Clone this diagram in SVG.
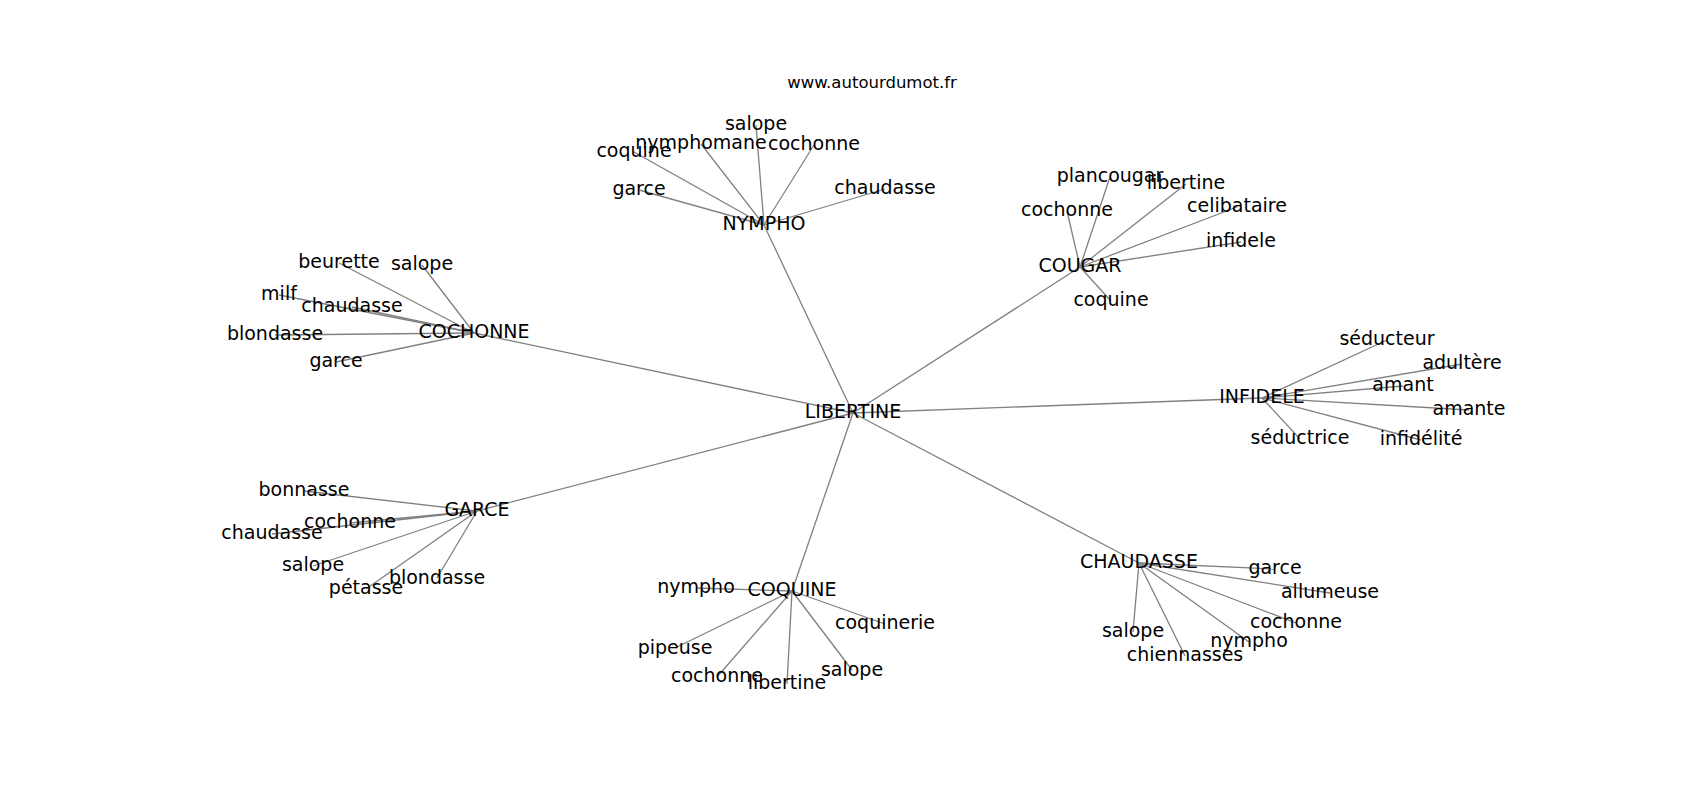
<svg xmlns="http://www.w3.org/2000/svg" width="1700" height="800" viewBox="0 0 1700 800">
<style>
text{font-family:"DejaVu Sans","Liberation Sans",sans-serif;font-size:19px;fill:#000;text-anchor:middle}
.title{font-size:16.5px}
#edges line{stroke:#808080;stroke-width:1.3}
</style>
<rect width="1700" height="800" fill="#fff"/>
<text class="title" x="872" y="88">www.autourdumot.fr</text>
<g id="edges">
<line x1="853" y1="413" x2="764" y2="225"/>
<line x1="853" y1="413" x2="1080" y2="267"/>
<line x1="853" y1="413" x2="474" y2="333"/>
<line x1="853" y1="413" x2="1262" y2="398"/>
<line x1="853" y1="413" x2="477" y2="511"/>
<line x1="853" y1="413" x2="792" y2="591"/>
<line x1="853" y1="413" x2="1139" y2="563"/>
<line x1="764" y1="225" x2="756" y2="125"/>
<line x1="764" y1="225" x2="701" y2="144"/>
<line x1="764" y1="225" x2="814" y2="145"/>
<line x1="764" y1="225" x2="634" y2="152"/>
<line x1="764" y1="225" x2="639" y2="190"/>
<line x1="764" y1="225" x2="885" y2="189"/>
<line x1="1080" y1="267" x2="1110" y2="177"/>
<line x1="1080" y1="267" x2="1186" y2="184"/>
<line x1="1080" y1="267" x2="1237" y2="207"/>
<line x1="1080" y1="267" x2="1241" y2="242"/>
<line x1="1080" y1="267" x2="1067" y2="211"/>
<line x1="1080" y1="267" x2="1111" y2="301"/>
<line x1="474" y1="333" x2="339" y2="263"/>
<line x1="474" y1="333" x2="422" y2="265"/>
<line x1="474" y1="333" x2="279" y2="295"/>
<line x1="474" y1="333" x2="352" y2="307"/>
<line x1="474" y1="333" x2="275" y2="335"/>
<line x1="474" y1="333" x2="336" y2="362"/>
<line x1="1262" y1="398" x2="1387" y2="340"/>
<line x1="1262" y1="398" x2="1462" y2="364"/>
<line x1="1262" y1="398" x2="1403" y2="386"/>
<line x1="1262" y1="398" x2="1469" y2="410"/>
<line x1="1262" y1="398" x2="1421" y2="440"/>
<line x1="1262" y1="398" x2="1300" y2="439"/>
<line x1="477" y1="511" x2="304" y2="491"/>
<line x1="477" y1="511" x2="350" y2="523"/>
<line x1="477" y1="511" x2="272" y2="534"/>
<line x1="477" y1="511" x2="313" y2="566"/>
<line x1="477" y1="511" x2="366" y2="589"/>
<line x1="477" y1="511" x2="437" y2="578"/>
<line x1="792" y1="591" x2="696" y2="588"/>
<line x1="792" y1="591" x2="885" y2="624"/>
<line x1="792" y1="591" x2="675" y2="648"/>
<line x1="792" y1="591" x2="717" y2="677"/>
<line x1="792" y1="591" x2="787" y2="684"/>
<line x1="792" y1="591" x2="852" y2="670"/>
<line x1="1139" y1="563" x2="1275" y2="569"/>
<line x1="1139" y1="563" x2="1330" y2="593"/>
<line x1="1139" y1="563" x2="1296" y2="623"/>
<line x1="1139" y1="563" x2="1249" y2="642"/>
<line x1="1139" y1="563" x2="1133" y2="632"/>
<line x1="1139" y1="563" x2="1185" y2="656"/>
</g>
<g id="n-libertine"><text x="853" y="418">LIBERTINE</text></g>
<g id="n-nympho"><text x="764" y="230">NYMPHO</text></g>
<g id="n-cougar"><text x="1080" y="272">COUGAR</text></g>
<g id="n-cochonne"><text x="474" y="338">COCHONNE</text></g>
<g id="n-infidele"><text x="1262" y="403">INFIDELE</text></g>
<g id="n-garce"><text x="477" y="516">GARCE</text></g>
<g id="n-coquine"><text x="792" y="596">COQUINE</text></g>
<g id="n-chaudasse"><text x="1139" y="568">CHAUDASSE</text></g>
<g id="nympho-leaves">
<g id="ny-salope"><text x="756" y="130">salope</text></g>
<g id="ny-nymphomane"><text x="701" y="149">nymphomane</text></g>
<g id="ny-cochonne"><text x="814" y="150">cochonne</text></g>
<g id="ny-coquine"><text x="634" y="157">coquine</text></g>
<g id="ny-garce"><text x="639" y="195">garce</text></g>
<g id="ny-chaudasse"><text x="885" y="194">chaudasse</text></g>
</g>
<g id="cougar-leaves">
<g id="co-plancougar"><text x="1110" y="182">plancougar</text></g>
<g id="co-libertine"><text x="1186" y="189">libertine</text></g>
<g id="co-celibataire"><text x="1237" y="212">celibataire</text></g>
<g id="co-infidele"><text x="1241" y="247">infidele</text></g>
<g id="co-cochonne"><text x="1067" y="216">cochonne</text></g>
<g id="co-coquine"><text x="1111" y="306">coquine</text></g>
</g>
<g id="cochonne-leaves">
<g id="ch-beurette"><text x="339" y="268">beurette</text></g>
<g id="ch-salope"><text x="422" y="270">salope</text></g>
<g id="ch-milf"><text x="279" y="300">milf</text></g>
<g id="ch-chaudasse"><text x="352" y="312">chaudasse</text></g>
<g id="ch-blondasse"><text x="275" y="340">blondasse</text></g>
<g id="ch-garce"><text x="336" y="367">garce</text></g>
</g>
<g id="infidele-leaves">
<g id="in-seducteur"><text x="1387" y="345">séducteur</text></g>
<g id="in-adultere"><text x="1462" y="369">adultère</text></g>
<g id="in-amant"><text x="1403" y="391">amant</text></g>
<g id="in-amante"><text x="1469" y="415">amante</text></g>
<g id="in-infidelite"><text x="1421" y="445">infidélité</text></g>
<g id="in-seductrice"><text x="1300" y="444">séductrice</text></g>
</g>
<g id="garce-leaves">
<g id="ga-bonnasse"><text x="304" y="496">bonnasse</text></g>
<g id="ga-cochonne"><text x="350" y="528">cochonne</text></g>
<g id="ga-chaudasse"><text x="272" y="539">chaudasse</text></g>
<g id="ga-salope"><text x="313" y="571">salope</text></g>
<g id="ga-petasse"><text x="366" y="594">pétasse</text></g>
<g id="ga-blondasse"><text x="437" y="584">blondasse</text></g>
</g>
<g id="coquine-leaves">
<g id="cq-nympho"><text x="696" y="593">nympho</text></g>
<g id="cq-coquinerie"><text x="885" y="629">coquinerie</text></g>
<g id="cq-pipeuse"><text x="675" y="654">pipeuse</text></g>
<g id="cq-cochonne"><text x="717" y="682">cochonne</text></g>
<g id="cq-libertine"><text x="787" y="689">libertine</text></g>
<g id="cq-salope"><text x="852" y="676">salope</text></g>
</g>
<g id="chaudasse-leaves">
<g id="cd-garce"><text x="1275" y="574">garce</text></g>
<g id="cd-allumeuse"><text x="1330" y="598">allumeuse</text></g>
<g id="cd-cochonne"><text x="1296" y="628">cochonne</text></g>
<g id="cd-nympho"><text x="1249" y="647">nympho</text></g>
<g id="cd-salope"><text x="1133" y="637">salope</text></g>
<g id="cd-chiennasses"><text x="1185" y="661">chiennasses</text></g>
</g>
</svg>
